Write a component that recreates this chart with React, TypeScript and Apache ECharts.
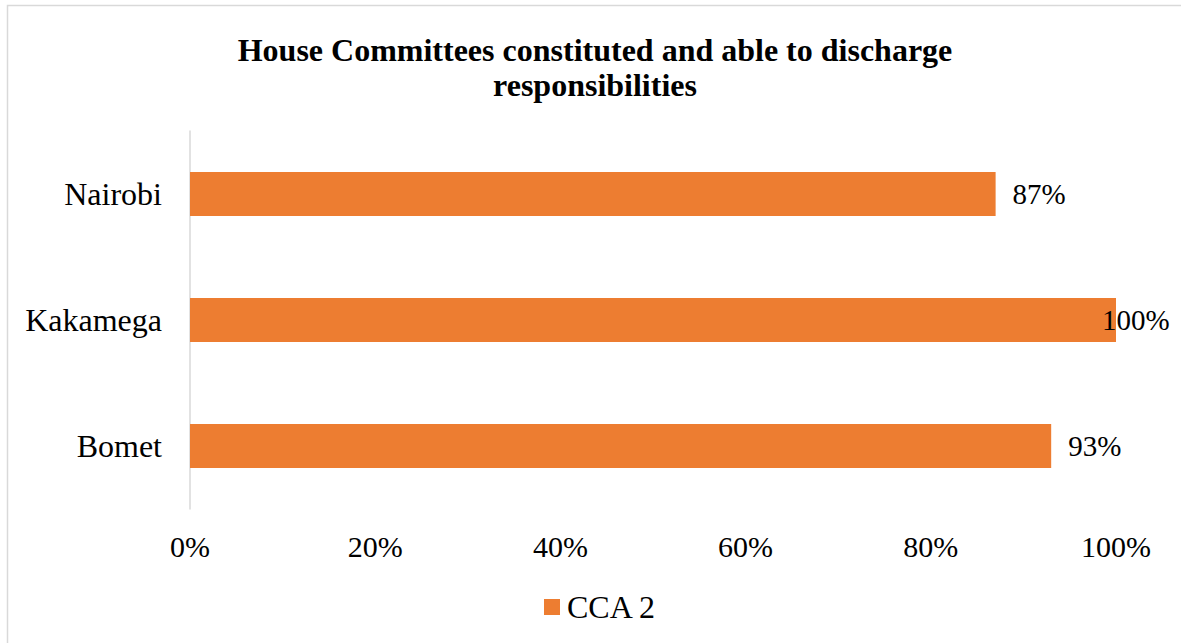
import React, { useEffect, useRef } from "react";
import * as echarts from "echarts";

const titleText = "House Committees constituted and able to discharge\nresponsibilities";
const categories = ["Bomet", "Kakamega", "Nairobi"];
const values = [93, 100, 87];
const seriesName = "CCA 2";
const xTicks = [0, 20, 40, 60, 80, 100];

export default function App() {
  const ref = useRef<HTMLDivElement>(null);
  useEffect(() => {
    if (!ref.current) return;
    const chart = echarts.init(ref.current, null, { renderer: "svg" });
    const font = "'Liberation Serif', 'Times New Roman', serif";
    chart.setOption({
      animation: false,
      backgroundColor: "#ffffff",
      textStyle: { fontFamily: font, color: "#000" },
      graphic: [
        {
          type: "rect",
          shape: { x: 7.5, y: 5.5, width: 1200, height: 700 },
          style: { fill: "none", stroke: "#d9d9d9", lineWidth: 1.5 },
          silent: true,
        },
      ],
      title: {
        text: titleText,
        left: 590,
        textAlign: "center",
        top: 27,
        textStyle: {
          fontFamily: font,
          fontWeight: "bold",
          fontSize: 32,
          lineHeight: 35,
          color: "#000",
        },
      },
      legend: {
        top: 591,
        left: 544,
        padding: 0,
        icon: "rect",
        itemWidth: 16,
        itemHeight: 16,
        itemGap: 8,
        textStyle: {
          fontFamily: font,
          fontSize: 32,
          lineHeight: 16,
          color: "#000",
          padding: [0, 0, 0, 2],
        },
        data: [seriesName],
      },
      grid: { left: 190, right: 65, top: 131, bottom: 134, containLabel: false },
      xAxis: {
        type: "value",
        min: xTicks[0],
        max: xTicks[xTicks.length - 1],
        interval: 20,
        axisLine: { show: false },
        axisTick: { show: false },
        splitLine: { show: false },
        axisLabel: {
          formatter: (v: number) => v + "%",
          fontFamily: font,
          fontSize: 30,
          color: "#000",
          margin: 22,
        },
      },
      yAxis: {
        type: "category",
        data: categories,
        axisLine: { show: true, lineStyle: { color: "#d9d9d9", width: 1.5 } },
        axisTick: { show: false },
        axisLabel: { fontFamily: font, fontSize: 32, color: "#000", margin: 28 },
      },
      series: [
        {
          name: seriesName,
          type: "bar",
          barWidth: 44,
          itemStyle: { color: "#ED7D31" },
          label: {
            show: true,
            position: "right",
            distance: 17,
            formatter: (p: any) => p.value + "%",
            fontFamily: font,
            fontSize: 29,
            color: "#000",
          },
          data: values.map((v) =>
            v >= 100 ? { value: v, label: { distance: -14 } } : v
          ),
        },
      ],
    });
    return () => chart.dispose();
  }, []);
  return (
    <div
      ref={ref}
      style={{ position: "fixed", left: 0, top: 0, width: 1181, height: 643 }}
    />
  );
}
